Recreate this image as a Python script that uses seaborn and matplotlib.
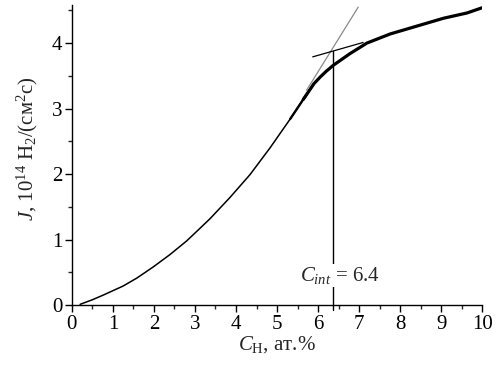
import numpy as np
import pandas as pd
import matplotlib
matplotlib.use("Agg")
import matplotlib.pyplot as plt
from matplotlib.ticker import MultipleLocator
import seaborn as sns

# values
c_h = [0.2, 0.5, 0.76, 1.25, 1.58, 1.98, 2.39, 2.80, 3.12, 3.37, 3.85,
       4.34, 4.83, 5.32, 5.64, 5.9, 6.05, 6.2, 6.37, 6.78, 7.19, 7.76,
       8.41, 9.06, 9.63, 10.0]
flux = [0.01, 0.08, 0.15, 0.29, 0.41, 0.58, 0.77, 0.98, 1.17, 1.32, 1.64,
        1.99, 2.40, 2.84, 3.14, 3.38, 3.48, 3.57, 3.66, 3.84, 4.00, 4.14,
        4.26, 4.38, 4.46, 4.54]

steep_x = [5.72, 6.98]
steep_y = [3.28, 4.55]
flat_x = [5.87, 7.1]
flat_y = [3.79, 4.01]
c_int = 6.37
c_int_level = 3.88
c_int_label = "6.4"

sns.set_theme(style="ticks")
plt.rcParams["font.family"] = ["Liberation Serif", "DejaVu Serif"]
plt.rcParams["mathtext.fontset"] = "custom"
plt.rcParams["mathtext.rm"] = "Liberation Serif"
plt.rcParams["mathtext.it"] = "Liberation Serif:italic"

df = pd.DataFrame({"c": c_h, "j": flux})

fig = plt.figure(figsize=(4.96, 3.67), dpi=100)
ax = fig.add_axes([0.145, 0.169, 0.827, 0.817])

# smooth lower part is thin, noisy upper part looks thicker
lo = df[df["c"] <= 5.7]
mid = df[(df["c"] >= 5.3) & (df["c"] <= 5.9)]
hi = df[df["c"] >= 5.64]
sns.lineplot(data=lo, x="c", y="j", sort=False, estimator=None,
             color="black", linewidth=1.1, ax=ax)
sns.lineplot(data=mid, x="c", y="j", sort=False, estimator=None,
             color="black", linewidth=1.7, ax=ax)
sns.lineplot(data=hi, x="c", y="j", sort=False, estimator=None,
             color="black", linewidth=2.3, ax=ax)

# tangent lines and intersection marker
ax.plot(steep_x, steep_y, color="#8a8a8a", linewidth=0.9)
ax.plot(flat_x, flat_y, color="black", linewidth=0.9)
ax.plot([c_int, c_int], [c_int_level, -0.08], color="black", linewidth=1.0, clip_on=False)
ax.text(5.56, 0.45, r"$C_{int}$ = " + c_int_label, fontsize=15, ha="left", va="center",
        bbox=dict(facecolor="white", edgecolor="none", pad=1.0))

ax.set_xlim(0, 10)
ax.set_ylim(0, 4.58)
ax.xaxis.set_major_locator(MultipleLocator(1))
ax.xaxis.set_minor_locator(MultipleLocator(0.5))
ax.yaxis.set_major_locator(MultipleLocator(1))
ax.yaxis.set_minor_locator(MultipleLocator(0.5))
ax.tick_params(which="major", length=5, width=1, labelsize=15, colors="black",
               direction="out", pad=2)
ax.tick_params(which="minor", length=3, width=1, direction="out")
sns.despine(ax=ax)
for s in ["left", "bottom"]:
    ax.spines[s].set_color("black")
    ax.spines[s].set_linewidth(1)

ax.set_xlabel(r"$C_{\rm H}$, ат.%", fontsize=15, labelpad=0)
ax.set_ylabel(r"$J$, 10$^{14}$ H$_2$/(см$^2$с)", fontsize=15)
ax.yaxis.set_label_coords(-0.078, 0.52)

fig.savefig("out.png", dpi=100)
